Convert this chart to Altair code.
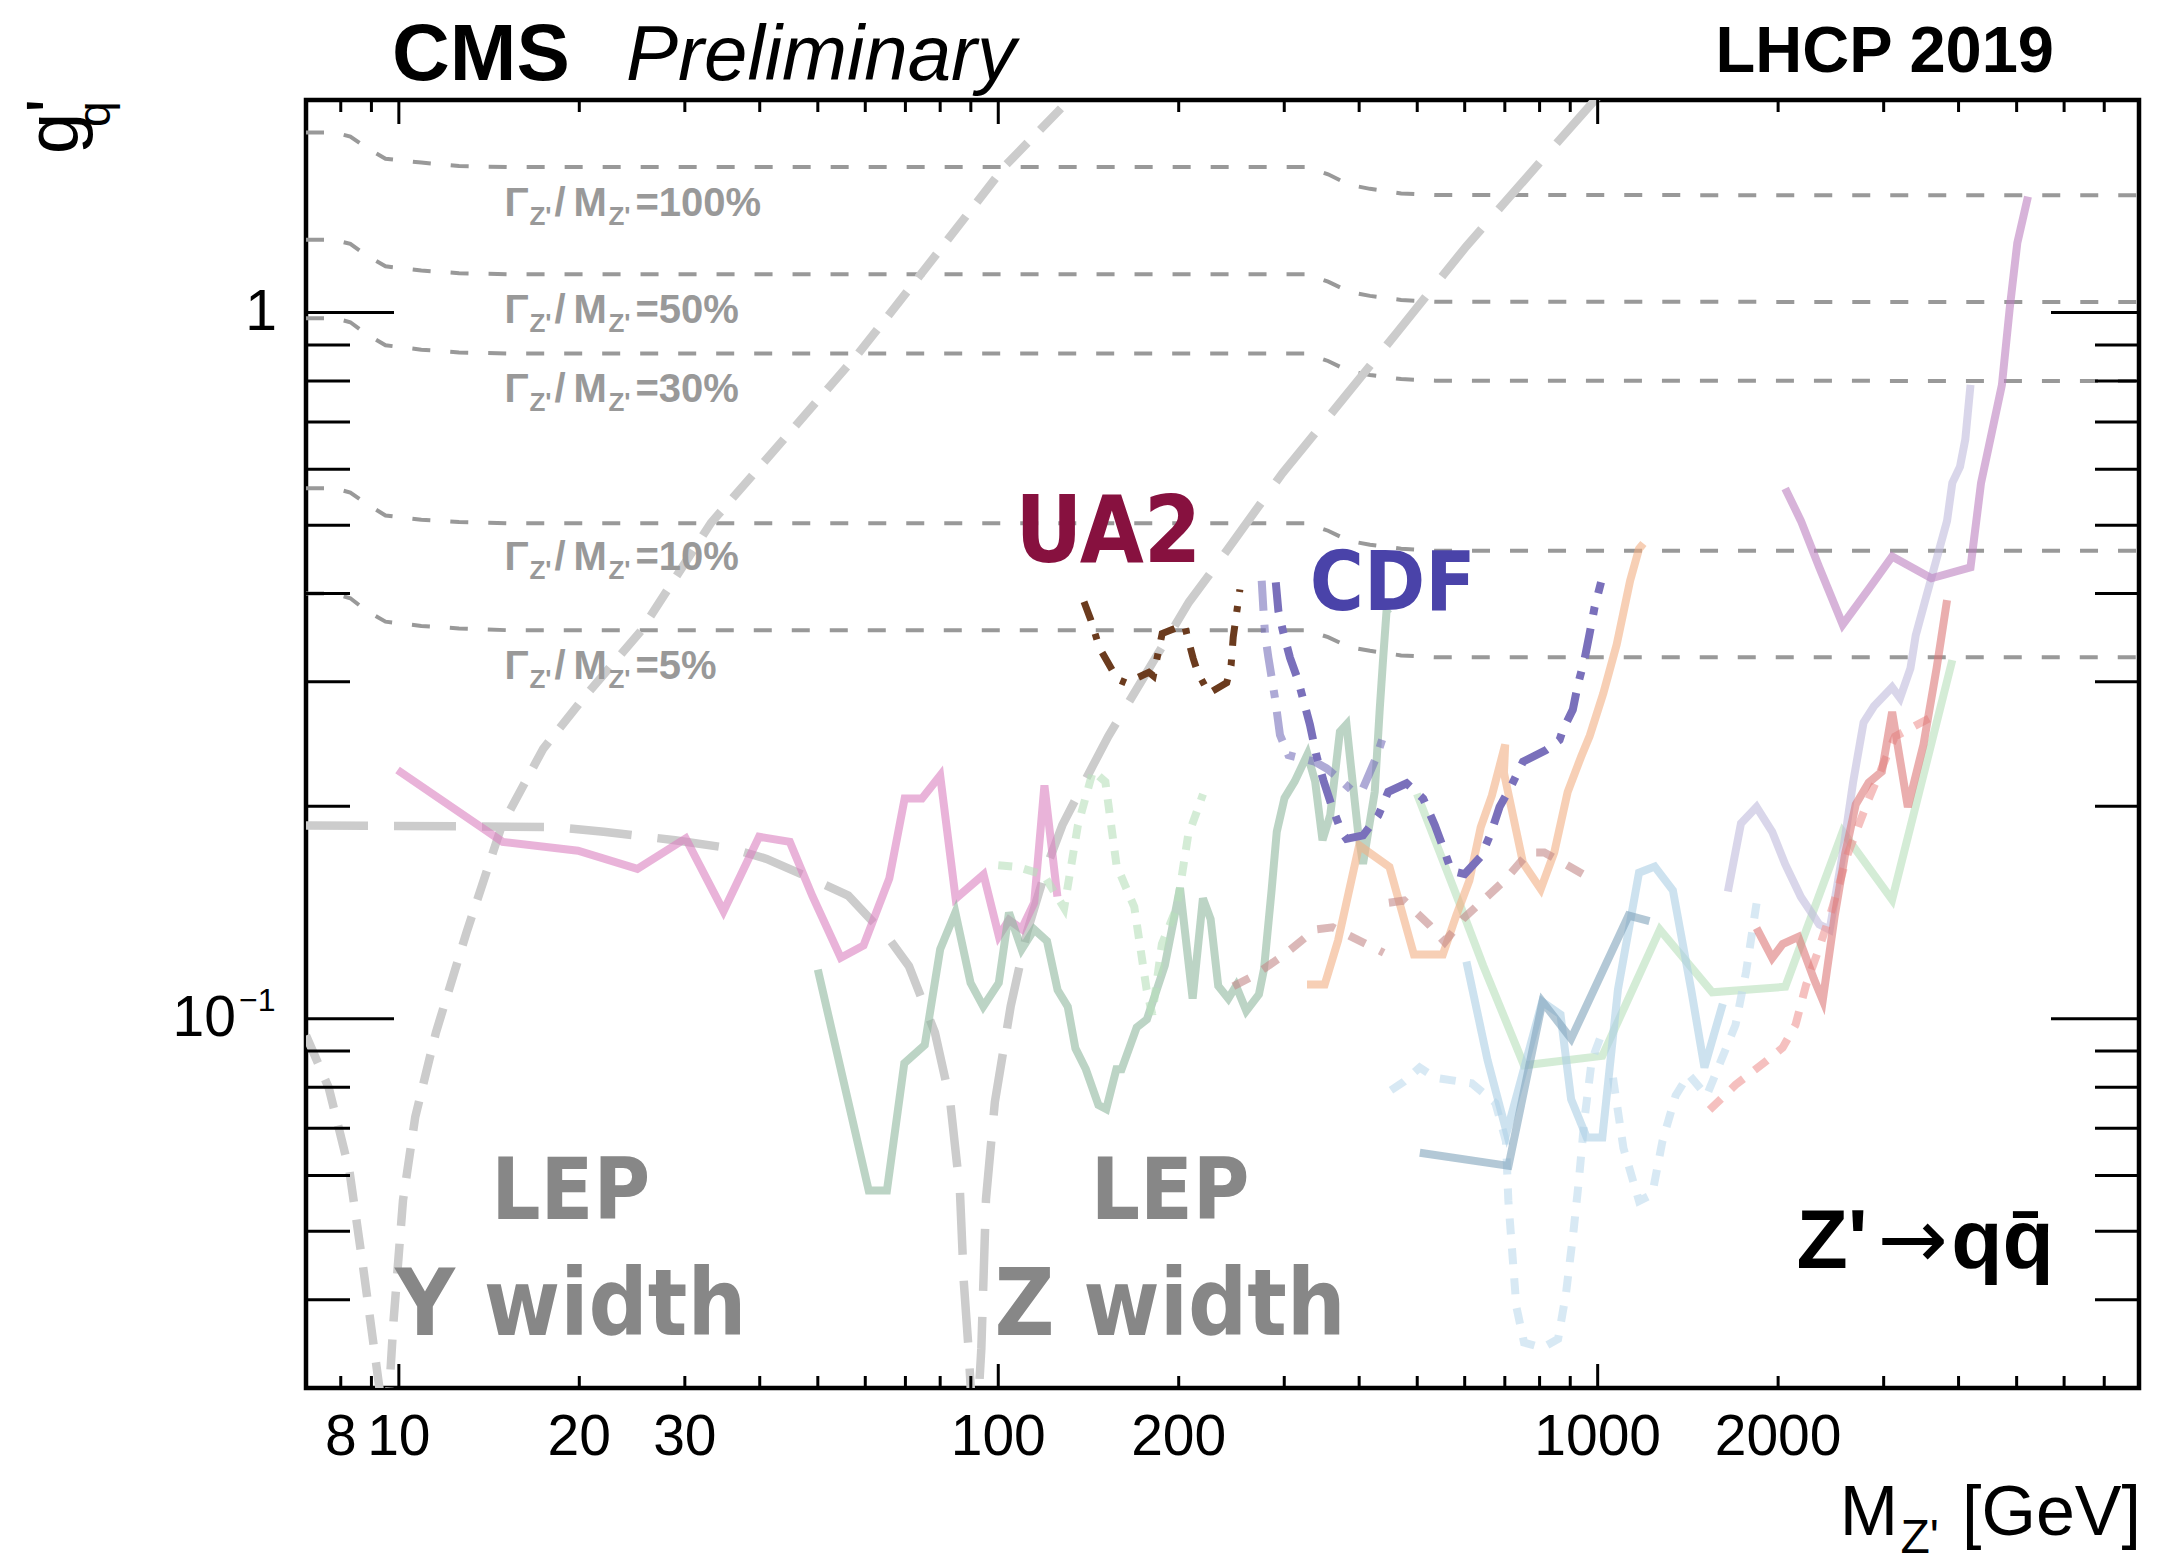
import altair as alt
import pandas as pd

# plot area (pixels)
W, H = 1833, 1288

MASS_RANGE = [7, 8000]
G_RANGE = [0.03, 2]

x_scale = alt.Scale(type="log", domain=MASS_RANGE, nice=False)
y_scale = alt.Scale(type="log", domain=G_RANGE, nice=False)

ROOT_FONT = "Liberation Sans, Arial, Helvetica, sans-serif"
HAND_FONT = "DejaVu Sans Condensed, Liberation Sans Narrow, Liberation Sans, sans-serif"
SYMBOL_FONT = "DejaVu Sans, sans-serif"

# ---------------- constant-width reference lines (Gamma/M) ----------------
width_mass = [7.0, 7.8, 8.3, 8.8, 9.5, 10.9, 12.6, 15.2, 327, 355, 385, 417, 470, 536, 8000]
width_g_100 = [1.799, 1.799, 1.775, 1.715, 1.651, 1.631, 1.613, 1.607, 1.607, 1.570, 1.517, 1.497, 1.475, 1.467, 1.466]
width_g_50 = [1.268, 1.268, 1.251, 1.207, 1.163, 1.147, 1.137, 1.133, 1.133, 1.106, 1.070, 1.056, 1.042, 1.036, 1.035]
width_g_30 = [0.982, 0.982, 0.969, 0.934, 0.899, 0.886, 0.878, 0.875, 0.875, 0.854, 0.826, 0.816, 0.805, 0.801, 0.800]
width_g_10 = [0.564, 0.564, 0.556, 0.537, 0.516, 0.509, 0.505, 0.503, 0.503, 0.491, 0.475, 0.469, 0.463, 0.460, 0.460]
width_g_5 = [0.400, 0.400, 0.394, 0.379, 0.365, 0.360, 0.357, 0.355, 0.355, 0.347, 0.336, 0.332, 0.327, 0.325, 0.325]

width_label_mass = [15.0, 15.0, 15.0, 15.0, 15.0]
width_label_g = [1.370, 0.966, 0.748, 0.432, 0.303]
width_label_pct = ["=100%", "=50%", "=30%", "=10%", "=5%"]

# ---------------- LEP constraints ----------------
upsilon_mass = [7.0, 7.64, 8.27, 8.72, 9.04, 9.29, 9.44, 9.64, 9.79, 10.16, 10.65, 11.53, 12.96,
                14.86, 17.41, 20.36, 25.33, 33.16, 58.3, 74.4, 102.7, 132.3, 139.5]
upsilon_g = [0.0947, 0.0798, 0.0609, 0.0444, 0.0354, 0.0298, 0.0236, 0.0298, 0.037, 0.0553, 0.0726,
             0.0956, 0.1323, 0.188, 0.2412, 0.285, 0.354, 0.5035, 0.873, 1.135, 1.614, 2.014, 2.135]

zwidth_mass = [7.0, 18.07, 21.97, 28.9, 35.9, 41.07, 47.97, 56.2, 65.9, 70.96, 78.4, 83.1, 86.3, 87.6,
               89.2, 91.4, 93.7, 95.4, 98.7, 104.9, 111.6, 120.6, 127.9, 143.9, 152.6, 208, 226.2,
               297.8, 380, 461.4, 604, 849, 1005, 1066]
zwidth_g = [0.1878, 0.1869, 0.1840, 0.179, 0.1742, 0.1684, 0.159, 0.1494, 0.1294, 0.1187, 0.0956,
            0.0766, 0.0571, 0.0424, 0.0341, 0.0236, 0.0341, 0.0556, 0.0762, 0.1042, 0.1323, 0.1647,
            0.188, 0.2285, 0.2512, 0.389, 0.428, 0.592, 0.763, 0.9345, 1.242, 1.727, 2.03, 2.15]

# ---------------- limits ----------------
pink_mass = [9.95, 14.9, 19.9, 25.0, 30.1, 34.8, 39.9, 44.9, 49.0, 54.6, 59.6, 65.8, 69.8, 74.6,
             80.0, 84.9, 94.5, 100.2, 104.2, 109.4, 114.8, 119.4, 125.5]
pink_g = [0.225, 0.178, 0.173, 0.163, 0.180, 0.142, 0.181, 0.178, 0.149, 0.122, 0.127, 0.158, 0.205,
          0.205, 0.221, 0.148, 0.160, 0.131, 0.138, 0.134, 0.146, 0.214, 0.149]

sage_mass = [50.0, 60.8, 65.2, 69.7, 75.4, 80.0, 84.8, 89.9, 94.4, 100.2, 104.2, 109.4, 114.8, 120.6,
             125.6, 130.6, 134.5, 140, 146.9, 151.4, 157.4, 160.6, 170.2, 177, 189.6, 201, 211, 219.5,
             226.1, 232.8, 242, 249.3, 259.3, 272.2, 277.5, 285.8, 291.5, 300.3, 312.3, 328, 337.8,
             347.5, 358, 371.5, 381, 387.3, 398.4, 406, 424.7, 433, 438.7, 444.4, 449]
sage_g = [0.1174, 0.0571, 0.0571, 0.0865, 0.0918, 0.1254, 0.1414, 0.1124, 0.1041, 0.1124, 0.1414,
          0.1254, 0.1338, 0.1288, 0.1098, 0.104, 0.0908, 0.0848, 0.0755, 0.0745, 0.0848, 0.0848,
          0.0972, 0.0998, 0.119, 0.1532, 0.1068, 0.148, 0.1384, 0.1113, 0.1068, 0.1113, 0.1026,
          0.1083, 0.1175, 0.1522, 0.184, 0.2053, 0.2168, 0.2368, 0.2168, 0.179, 0.1944, 0.255,
          0.261, 0.229, 0.1838, 0.1657, 0.2096, 0.2752, 0.3245, 0.378, 0.381]

green_dot_mass = [100, 107.7, 119, 128.8, 135.8, 143.9, 150.9, 157.5, 168.6, 176.8, 180.7, 187.5,
                  198.7, 207.3, 219.6]
green_dot_g = [0.165, 0.164, 0.160, 0.1435, 0.188, 0.2244, 0.2165, 0.165, 0.144, 0.110, 0.1014,
               0.1276, 0.144, 0.1815, 0.208]

ua2_mass = [139, 142.6, 147.5, 158, 163.6, 178.3, 181.4, 187.7, 204.4, 211.4, 215.1, 224.6, 240.5,
            244.6, 246.6, 253]
ua2_g = [0.3896, 0.3677, 0.3353, 0.3026, 0.2988, 0.3095, 0.3059, 0.3511, 0.3614, 0.324, 0.3095,
         0.289, 0.299, 0.3166, 0.3472, 0.4055]

cdf_a_mass = [275.1, 277, 278.7, 282.3, 289.5, 295.1, 304.8, 337.5, 353, 366.9, 391.2, 406, 427.6, 441.5]
cdf_a_g = [0.417, 0.378, 0.350, 0.3245, 0.2845, 0.2523, 0.2362, 0.2312, 0.2262, 0.2202, 0.2096,
           0.212, 0.235, 0.255]

cdf_b_mass = [290.4, 293.3, 299, 306.7, 316.7, 331.1, 339.8, 348.6, 359.7, 374, 381, 406, 430.5,
              447.3, 480, 511.5, 535, 552, 570, 600, 639.5, 664.6, 686, 718, 750.5, 820, 864, 875,
              909, 926.5, 950.7, 969, 988, 1013]
cdf_b_g = [0.415, 0.378, 0.352, 0.3245, 0.3006, 0.2608, 0.235, 0.2177, 0.2006, 0.1838, 0.1798,
           0.1818, 0.194, 0.2096, 0.2155, 0.205, 0.188, 0.175, 0.162, 0.1603, 0.170, 0.1838, 0.1995,
           0.214, 0.2312, 0.2402, 0.2483, 0.2566, 0.274, 0.297, 0.3227, 0.3503, 0.3823, 0.415]

orange_mass = [327.4, 350.4, 368.8, 391.7, 400, 449.4, 493.6, 551.7, 580.8, 611, 638, 666, 701,
               697.6, 750.5, 803.6, 846.4, 891, 938, 970, 1021.6, 1076, 1132.5, 1172, 1192]
orange_g = [0.1118, 0.1118, 0.129, 0.1625, 0.176, 0.164, 0.1233, 0.1233, 0.140, 0.157, 0.1866,
            0.207, 0.2445, 0.223, 0.1663, 0.1526, 0.172, 0.2094, 0.2348, 0.2516, 0.2888, 0.339,
            0.417, 0.4627, 0.471]

rose_a_mass = [246.7, 267, 300.3, 337.8, 361.4, 439.5]
rose_a_g = [0.1112, 0.1151, 0.1233, 0.1338, 0.1347, 0.124]
rose_b_mass = [448.4, 475.4, 524.6, 555.6, 595.6, 696.6, 767.8, 814.5, 952]
rose_b_g = [0.146, 0.147, 0.1356, 0.1284, 0.1384, 0.1565, 0.172, 0.172, 0.1597]

lgreen_mass = [499.5, 584, 644, 753.6, 1018, 1270, 1553, 2056, 2563, 3099, 3905]
lgreen_g = [0.2082, 0.148, 0.119, 0.0859, 0.0886, 0.1337, 0.109, 0.111, 0.184, 0.1474, 0.322]

lblue_mass = [604, 655, 705, 808, 867, 903, 959, 1018, 1081, 1172, 1245, 1335, 1432, 1507, 1617]
lblue_g = [0.1205, 0.0874, 0.069, 0.1057, 0.1014, 0.0769, 0.0679, 0.0679, 0.11, 0.161, 0.1643,
           0.152, 0.11, 0.0853, 0.105]

steel_mass = [505, 710, 809, 903, 1126, 1220]
steel_g = [0.0646, 0.0619, 0.1057, 0.0937, 0.140, 0.1375]

lblue_dash_a_mass = [452, 475.3, 504.7, 536, 616.6, 675, 703, 709.6, 731.7, 753.6, 808.6, 859,
                     885.6, 912, 930.4, 950, 977.5, 1018]
lblue_dash_a_g = [0.0792, 0.0815, 0.0853, 0.0825, 0.081, 0.076, 0.0671, 0.0552, 0.0391, 0.0348,
                  0.0342, 0.0352, 0.0409, 0.0503, 0.0591, 0.0718, 0.0873, 0.0957]
lblue_dash_b_mass = [1060.5, 1104, 1172, 1233, 1282, 1349, 1418, 1520, 1698, 1768, 1841]
lblue_dash_b_g = [0.0825, 0.0656, 0.0552, 0.0564, 0.067, 0.0778, 0.0834, 0.0778, 0.098, 0.1164, 0.1457]

lavender_mass = [1649, 1734, 1841, 1955, 2055, 2183, 2342, 2438, 2563, 2667, 2777, 2890, 3099,
                 3195, 3325, 3393, 3531, 3676, 3827, 3905, 4022, 4105, 4188]
lavender_g = [0.1514, 0.189, 0.1994, 0.184, 0.1655, 0.1487, 0.136, 0.1337, 0.1714, 0.216, 0.2627,
              0.277, 0.2947, 0.2845, 0.3135, 0.349, 0.3952, 0.4477, 0.507, 0.574, 0.605, 0.6615, 0.79]

mauve_mass = [2055, 2183, 2342, 2563, 2832, 3099, 3604, 4188, 4361, 4725, 4868, 5012, 5222]
mauve_g = [0.5637, 0.507, 0.4358, 0.3615, 0.406, 0.4516, 0.4205, 0.4358, 0.574, 0.79, 1.013, 1.254, 1.459]

red_mass = [1841, 1955, 2035, 2161, 2295, 2374, 2486, 2588, 2695, 2832, 2979, 3099, 3292, 3496, 3676, 3827]
red_g = [0.1344, 0.1219, 0.1276, 0.1306, 0.1138, 0.1062, 0.140, 0.1714, 0.2011, 0.216, 0.2238,
         0.272, 0.1994, 0.2446, 0.3135, 0.3917]

red_dash_mass = [1537, 1698, 1917, 2035, 2138, 2228, 2342, 2460, 2615, 2832, 3133, 3604]
red_dash_g = [0.0743, 0.0806, 0.0873, 0.091, 0.098, 0.1118, 0.126, 0.143, 0.1714, 0.2047, 0.251, 0.2673]

# ---------------- annotations ----------------
lep_mass = [19.35, 193.5]
lep_top_g = [0.052, 0.052]
lep_top_text = ["LEP", "LEP"]
lep_bottom_g = [0.0357, 0.0357]
lep_bottom_text = ["\u03a5 width", "Z width"]

exp_mass = [152.6, 455]
exp_g = [0.4436, 0.379]
exp_text = ["UA2", "CDF"]
exp_colors = ["#87113f", "#4a43a9"]
exp_sizes = [92, 82]

process_mass = [5768]
process_g = [0.0444]

# ---------------- axis ticks ----------------
x_major_ticks = [10, 100, 1000]
x_minor_ticks = [8, 9, 20, 30, 40, 50, 60, 70, 80, 90, 200, 300, 400, 500, 600, 700, 800, 900,
                 2000, 3000, 4000, 5000, 6000, 7000]
x_tick_labels = [8, 10, 20, 30, 100, 200, 1000, 2000]
y_major_ticks = [0.1, 1]
y_minor_ticks = [0.04, 0.05, 0.06, 0.07, 0.08, 0.09, 0.2, 0.3, 0.4, 0.5, 0.6, 0.7, 0.8, 0.9]


def X(field="mass"):
    return alt.X(f"{field}:Q", scale=x_scale, axis=None)


def Y(field="g"):
    return alt.Y(f"{field}:Q", scale=y_scale, axis=None)


def curve(mass, g, color, width=8, dash=None, opacity=1.0):
    df = pd.DataFrame({"mass": mass, "g": g, "step": list(range(len(mass)))})
    props = dict(color=color, strokeWidth=width, opacity=opacity, clip=True)
    if dash is not None:
        props["strokeDash"] = dash
    return alt.Chart(df).mark_line(**props).encode(x=X(), y=Y(), order=alt.Order("step:Q"))


def label(mass, g, texts, size, color, font=ROOT_FONT, weight="bold", align="left", dx=0, dy=0,
          style="normal"):
    df = pd.DataFrame({"mass": mass, "g": g, "txt": texts})
    return alt.Chart(df).mark_text(
        fontSize=size, color=color, font=font, fontWeight=weight, fontStyle=style,
        align=align, baseline="alphabetic", dx=dx, dy=dy,
    ).encode(x=X(), y=Y(), text="txt:N")


def page_text(txt, px, py, size, color="black", weight="normal", style="normal", align="left",
              angle=None, font=ROOT_FONT):
    df = pd.DataFrame({"txt": [txt]})
    props = dict(fontSize=size, color=color, font=font, fontWeight=weight, fontStyle=style,
                 align=align, baseline="alphabetic")
    if angle is not None:
        props["angle"] = angle
    return alt.Chart(df).mark_text(**props).encode(x=alt.value(px), y=alt.value(py), text="txt:N")


layers = []

# width reference lines
for gvals in [width_g_100, width_g_50, width_g_30, width_g_10, width_g_5]:
    layers.append(curve(width_mass, gvals, "#999999", width=4, dash=[18, 20]))

# LEP constraints
layers.append(curve(upsilon_mass, upsilon_g, "#cccccc", width=8.5, dash=[30, 18]))
layers.append(curve(zwidth_mass, zwidth_g, "#cccccc", width=8.5, dash=[62, 26]))

# exclusion limits
A = 0.6
layers += [
    curve(pink_mass, pink_g, "#da80c0", opacity=A),
    curve(sage_mass, sage_g, "#8fb79e", opacity=A),
    curve(green_dot_mass, green_dot_g, "#b7dfbb", dash=[14, 12], opacity=A),
    curve(lgreen_mass, lgreen_g, "#b7dfbb", opacity=A),
    curve(orange_mass, orange_g, "#f2af84", opacity=A),
    curve(rose_a_mass, rose_a_g, "#c38989", dash=[18, 16], opacity=A),
    curve(rose_b_mass, rose_b_g, "#c38989", dash=[18, 16], opacity=A),
    curve(lblue_dash_a_mass, lblue_dash_a_g, "#bedaed", dash=[16, 14], opacity=A),
    curve(lblue_dash_b_mass, lblue_dash_b_g, "#bedaed", dash=[16, 14], opacity=A),
    curve(lblue_mass, lblue_g, "#accfe4", opacity=A),
    curve(steel_mass, steel_g, "#80a3bb", opacity=A),
    curve(lavender_mass, lavender_g, "#c0bbdc", opacity=A),
    curve(mauve_mass, mauve_g, "#bc80c0", opacity=A),
    curve(red_dash_mass, red_dash_g, "#ee9694", dash=[16, 14], opacity=A),
    curve(red_mass, red_g, "#dc7878", opacity=A),
    curve(ua2_mass, ua2_g, "#6b3b1e", width=7, dash=[20, 14, 6, 14]),
    curve(cdf_a_mass, cdf_a_g, "#7871bb", width=8, dash=[30, 14, 8, 14], opacity=A),
    curve(cdf_b_mass, cdf_b_g, "#7a70bb", width=8, dash=[30, 14, 8, 14]),
]

# ticks on all four sides, pointing inward
tick_style = dict(color="black", strokeWidth=3)
for vals, ln in [(x_minor_ticks, 12), (x_major_ticks, 24)]:
    df = pd.DataFrame({"v": vals})
    layers.append(alt.Chart(df).mark_rule(**tick_style).encode(
        x=X("v"), y=alt.value(H), y2=alt.value(H - ln)))
    layers.append(alt.Chart(df).mark_rule(**tick_style).encode(
        x=X("v"), y=alt.value(0), y2=alt.value(ln)))
for vals, ln in [(y_minor_ticks, 44), (y_major_ticks, 88)]:
    df = pd.DataFrame({"v": vals})
    layers.append(alt.Chart(df).mark_rule(**tick_style).encode(
        y=Y("v"), x=alt.value(0), x2=alt.value(ln)))
    layers.append(alt.Chart(df).mark_rule(**tick_style).encode(
        y=Y("v"), x=alt.value(W), x2=alt.value(W - ln)))

# tick labels
xl = pd.DataFrame({"v": x_tick_labels, "txt": [str(v) for v in x_tick_labels]})
layers.append(alt.Chart(xl).mark_text(fontSize=57, font=ROOT_FONT, align="center",
                                      baseline="alphabetic", color="black").encode(
    x=X("v"), y=alt.value(H + 67), text="txt:N"))
yl_one = pd.DataFrame({"v": [1], "txt": ["1"]})
layers.append(alt.Chart(yl_one).mark_text(fontSize=57, font=ROOT_FONT, align="right",
                                          baseline="middle", color="black").encode(
    y=Y("v"), x=alt.value(-29), text="txt:N"))
yl_ten = pd.DataFrame({"v": [0.1], "txt": ["10"], "sup": ["\u22121"]})
layers.append(alt.Chart(yl_ten).mark_text(fontSize=57, font=ROOT_FONT, align="right",
                                          baseline="middle", color="black").encode(
    y=Y("v"), x=alt.value(-70), text="txt:N"))
layers.append(alt.Chart(yl_ten).mark_text(fontSize=32, font=ROOT_FONT, align="left",
                                          baseline="middle", color="black", dy=-18).encode(
    y=Y("v"), x=alt.value(-67), text="sup:N"))

# Gamma/M labels
GRAY = "#999999"
layers += [
    label(width_label_mass, width_label_g, ["\u0393"] * 5, 40, GRAY),
    label(width_label_mass, width_label_g, ["Z'"] * 5, 26, GRAY, dx=25, dy=9),
    label(width_label_mass, width_label_g, ["/"] * 5, 40, GRAY, dx=50),
    label(width_label_mass, width_label_g, ["M"] * 5, 40, GRAY, dx=69),
    label(width_label_mass, width_label_g, ["Z'"] * 5, 26, GRAY, dx=104, dy=9),
    label(width_label_mass, width_label_g, width_label_pct, 40, GRAY, dx=131),
]

# experiment and constraint labels
layers.append(label(lep_mass, lep_top_g, lep_top_text, 86, "#878787", font=HAND_FONT, align="center"))
layers.append(label(lep_mass, lep_bottom_g, lep_bottom_text, 92, "#878787", font=HAND_FONT, align="center"))
for m, g, t, c, s in zip(exp_mass, exp_g, exp_text, exp_colors, exp_sizes):
    layers.append(label([m], [g], [t], s, c, font=HAND_FONT, align="center"))

# process label Z' -> q qbar, built from three pieces
layers += [
    label(process_mass, process_g, ["q" + "q\u0304"], 84, "black", align="right"),
    label(process_mass, process_g, ["\u2192"], 84, "black", font=SYMBOL_FONT, weight="normal",
          align="right", dx=-106),
    label(process_mass, process_g, ["Z'"], 84, "black", align="right", dx=-186),
]

# header and axis titles
layers += [
    page_text("CMS", 86, -20, 80, weight="bold"),
    page_text("Preliminary", 320, -20, 78, style="italic"),
    page_text("LHCP 2019", 1748, -28, 65, weight="bold", align="right"),
    page_text("[GeV]", 1835, 1435, 70, align="right"),
    page_text("Z'", 1633, 1453, 48, align="right"),
    page_text("M", 1592, 1435, 70, align="right"),
    page_text("g'", -228, 54, 74, angle=270),
    page_text("q", -196, 27, 46, angle=270),
]

chart = alt.layer(*layers).properties(
    width=W,
    height=H,
    autosize=alt.AutoSizeParams(type="none"),
    padding={"left": 306, "top": 100, "right": 20, "bottom": 180},
    background="white",
).configure_view(stroke="black", strokeWidth=4.5)

chart.save("out.html", embed_options={"renderer": "svg", "actions": False})
